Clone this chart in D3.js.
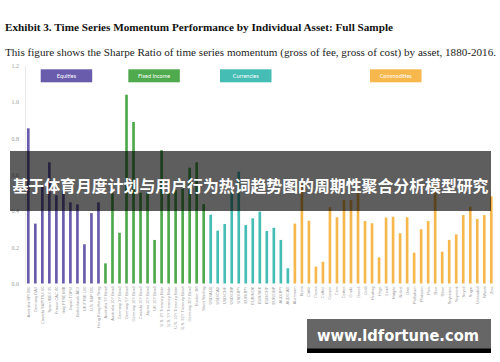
<!DOCTYPE html>
<html>
<head>
<meta charset="utf-8">
<script src="https://cdn.jsdelivr.net/npm/d3@7"></script>
<style>
  body { margin: 0; background: #fff; }
</style>
</head>
<body>
<div id="container"></div>
<script>
let w = 500;
let h = 362;

// data
let groups = ["Equities", "Fixed Income", "Currencies", "Commodities"];
let groupColors = ["#6a5cad", "#4fa94d", "#45bdb5", "#f6b84c"];

let equityNames = ["Australia SPI 200", "Germany DAX", "Canada S&P/TSX 60", "Spain IBEX 35", "France CAC 40",
  "Italy FTSE MIB", "Japan TOPIX", "Netherlands AEX", "UK FTSE 100", "U.S. S&P 500", "Hong Kong Hang Seng"];
let equityValues = [0.855, 0.33, 0.537, 0.668, 0.486, 0.513, 0.447, 0.436, 0.216, 0.388, 0.447];

let bondNames = ["Australia 3Y Bond", "Australia 10Y Bond", "Germany 2Y Bond", "Germany 5Y Bond", "Germany 10Y Bond",
  "Canada 10Y Bond", "Japan 10Y Bond", "UK 10Y Bond", "U.S. 2Y Treasury Note", "U.S. 5Y Treasury Note",
  "U.S. 10Y Treasury Note", "U.S. 30Y Treasury Bond", "Germany 30Y Bond", "Euribor 3M", "Short Sterling"];
let bondValues = [0.111, 0.497, 0.28, 1.04, 0.89, 0.5, 0.5, 0.24, 0.735, 0.5, 0.515, 0.522, 0.638, 0.668, 0.437];

let fxNames = ["USD/AUD", "USD/CAD", "USD/CHF", "USD/GBP", "USD/JPY", "EUR/JPY", "EUR/NOK", "EUR/SEK",
  "EUR/CHF", "EUR/GBP", "AUD/JPY", "AUD/CAD"];
let fxValues = [0.379, 0.291, 0.328, 0.5, 0.616, 0.322, 0.359, 0.396, 0.289, 0.307, 0.24, 0.084];

let comNames = ["Aluminum", "Brent", "Cattle", "Cocoa", "Coffee", "Copper", "Corn", "Cotton", "Crude", "Gasoil",
  "Gold", "Heating", "Hogs", "Lead", "Natgas", "Nickel", "Oats", "Palladium", "Platinum", "Pork", "Rice",
  "Silver", "Soybeans", "Soymeal", "Soyoil", "Sugar", "Unleaded", "Wheat", "Zinc"];
let comValues = [0.33, 0.55, 0.346, 0.093, 0.12, 0.42, 0.365, 0.46, 0.46, 0.5, 0.344, 0.332, 0.144, 0.363,
  0.368, 0.277, 0.365, 0.17, 0.299, 0.344, 0.55, 0.175, 0.24, 0.271, 0.377, 0.423, 0.355, 0.377, 0.48];

let yTicks = [0, 0.2, 0.4, 0.6, 0.8, 1.0, 1.2];

let bannerText = "基于体育月度计划与用户行为热词趋势图的周期性聚合分析模型研究";
let markText = "www.ldfortune.com";

// build rows
let rows = [];
[[equityNames, equityValues], [bondNames, bondValues], [fxNames, fxValues], [comNames, comValues]]
  .forEach(function(pair, gi){
    pair[0].forEach(function(n, i){
      rows.push({name: n, value: pair[1][i], group: gi});
    });
  });

let viz = d3.select("#container")
  .append("svg")
    .attr("width", w)
    .attr("height", h)
    .style("background-color", "#fff");

// title + subtitle
viz.append("text")
  .text("Exhibit 3. Time Series Momentum Performance by Individual Asset: Full Sample")
  .attr("x", 5).attr("y", 30.5)
  .attr("textLength", 388).attr("lengthAdjust", "spacingAndGlyphs")
  .style("font-family", "'Liberation Serif', serif")
  .style("font-weight", "bold")
  .style("font-size", "10.5px")
  .attr("fill", "#111");

viz.append("text")
  .text("This figure shows the Sharpe Ratio of time series momentum (gross of fee, gross of cost) by asset, 1880-2016.")
  .attr("x", 5).attr("y", 56)
  .attr("textLength", 491).attr("lengthAdjust", "spacingAndGlyphs")
  .style("font-family", "'Liberation Serif', serif")
  .style("font-size", "11px")
  .attr("fill", "#222");

// scales
let xScale = d3.scaleBand()
  .domain(rows.map(function(d, i){ return i; }))
  .range([24.8, 494.8])
  .paddingInner(0.62)
  .paddingOuter(0.31);

let yScale = d3.scaleLinear().domain([0, 1.2]).range([283.5, 65.7]);

// y axis
let yAxis = d3.axisLeft(yScale).tickValues(yTicks).tickFormat(d3.format(".1f")).tickSize(0).tickPadding(6);
let yAxisGroup = viz.append("g").attr("class", "yaxis")
  .attr("transform", "translate(25,0)")
  .call(yAxis);
yAxisGroup.select(".domain").attr("stroke", "#e4e4e4").attr("stroke-width", 0.8);
yAxisGroup.selectAll("text")
  .attr("fill", "#a0a0a0")
  .style("font-family", "'Liberation Serif', serif")
  .style("font-size", "6px");

// bars
viz.selectAll(".bar").data(rows).enter()
  .append("rect")
    .attr("class", "bar")
    .attr("x", function(d, i){ return xScale(i); })
    .attr("width", xScale.bandwidth())
    .attr("y", function(d){ return yScale(d.value); })
    .attr("height", function(d){ return yScale(0) - yScale(d.value); })
    .attr("fill", function(d){ return groupColors[d.group]; });

// asset labels
viz.selectAll(".lab").data(rows).enter()
  .append("text")
    .attr("class", "lab")
    .text(function(d){ return d.name; })
    .attr("transform", function(d, i){
      return "translate(" + (xScale(i) + xScale.bandwidth() / 2 + 1.5) + "," + (yScale(0) + 3) + ") rotate(-90)";
    })
    .attr("text-anchor", "end")
    .attr("fill", "#9a9a9a")
    .style("font-family", "'Liberation Sans', sans-serif")
    .style("font-size", "4px");

// legend boxes
let legendX = [40.7, 128.3, 220, 370];
let legend = viz.selectAll(".legend").data(groups).enter()
  .append("g")
    .attr("class", "legend")
    .attr("transform", function(d, i){ return "translate(" + legendX[i] + ",69.3)"; });
legend.append("rect")
  .attr("width", 51.5).attr("height", 13)
  .attr("fill", function(d, i){ return groupColors[i]; });
legend.append("text")
  .text(function(d){ return d; })
  .attr("x", 25.75).attr("y", 8.8)
  .attr("text-anchor", "middle")
  .attr("fill", "#fff")
  .style("font-family", "Lato, sans-serif")
  .style("font-size", "5.5px");

// overlay banner
viz.append("rect")
  .attr("x", 10).attr("y", 151)
  .attr("width", 481).attr("height", 60)
  .attr("fill", "#000").attr("opacity", 0.63);
viz.append("text")
  .text(bannerText)
  .attr("x", 250.5).attr("y", 192)
  .attr("text-anchor", "middle")
  .attr("textLength", 476).attr("lengthAdjust", "spacingAndGlyphs")
  .attr("fill", "#fff")
  .style("font-family", "'Noto Sans CJK SC', sans-serif")
  .style("font-weight", "bold")
  .style("font-size", "16px");

// watermark
viz.append("rect")
  .attr("x", 307).attr("y", 348).attr("width", 184).attr("height", 5)
  .attr("fill", "#000");
viz.append("rect")
  .attr("x", 307).attr("y", 319).attr("width", 184).attr("height", 29.5)
  .attr("fill", "#666");
viz.append("text")
  .text(markText)
  .attr("x", 317).attr("y", 341)
  .attr("textLength", 162).attr("lengthAdjust", "spacingAndGlyphs")
  .attr("fill", "#fff")
  .style("font-family", "'DejaVu Sans', sans-serif")
  .style("font-weight", "bold")
  .style("font-size", "15.5px");
</script>
</body>
</html>
